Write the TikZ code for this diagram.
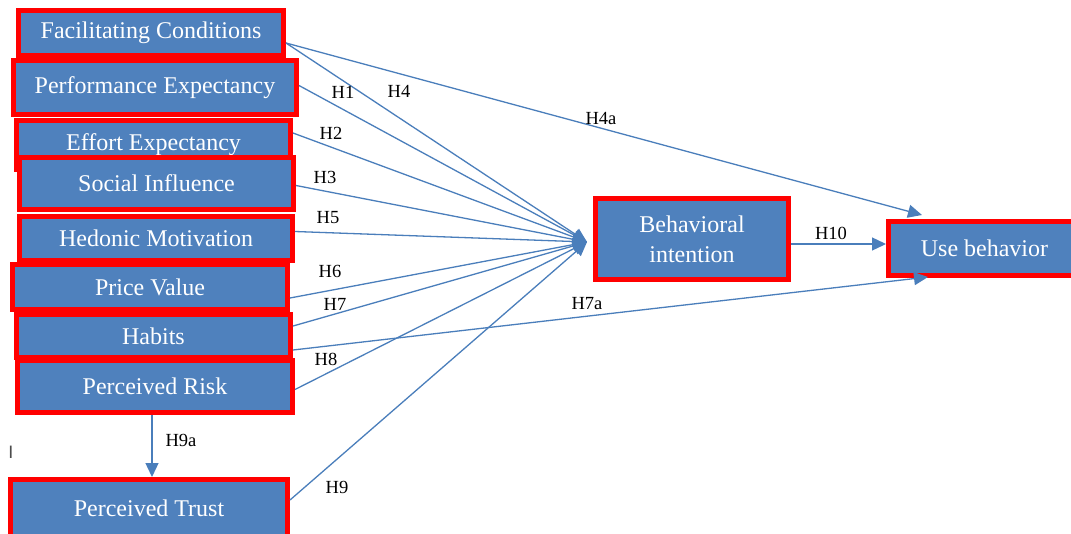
\documentclass[tikz,border=0pt]{standalone}
\usepackage{fontspec}
\setmainfont{Liberation Serif}
\newfontfamily\tickfont{Liberation Sans}
\usetikzlibrary{arrows.meta,calc}
\definecolor{boxblue}{HTML}{4F81BD}
\definecolor{linkblue}{HTML}{4A7EBB}
\definecolor{boxred}{HTML}{FF0000}
\tikzset{
  box/.style={rectangle, draw=boxred, line width=5pt, fill=boxblue, text=white,
    inner sep=0pt, font=\fontsize{24}{30}\selectfont, align=center},
  link/.style={draw=linkblue, line width=1.3pt, -{Triangle[length=14pt,width=13pt]}},
  hlabel/.style={font=\fontsize{18.5}{20}\selectfont, text=black, inner sep=0pt}
}
\begin{document}
\begin{tikzpicture}[x=1pt,y=-1pt]
\clip (0,0) rectangle (1071,533);
\fill[white] (0,0) rectangle (1071,533);
% boxes (top to bottom so that each covers the one above)
\node[box, minimum width=265pt, minimum height=45pt] (fc) at (151,33) {Facilitating Conditions};
\node[box, minimum width=283pt, minimum height=54pt] (pe) at (155,87.5) {Performance Expectancy};
\node[box, minimum width=274pt, minimum height=49pt] (ee) at (153.5,145) {Effort Expectancy};
\node[box, minimum width=274pt, minimum height=52pt] (si) at (156.5,183.5) {Social Influence};
\node[box, minimum width=273pt, minimum height=44pt] (hm) at (156,238.5) {Hedonic Motivation};
\node[box, minimum width=275pt, minimum height=45pt] (pv) at (150,287) {Price Value};
\node[box, minimum width=274pt, minimum height=43pt] (hb) at (153.5,336) {Habits};
\node[box, minimum width=275pt, minimum height=52pt] (pr) at (155,386.5) {Perceived Risk};
\node[box, minimum width=277pt, minimum height=62pt] (pt) at (149,510.5) {\raisebox{4pt}{Perceived Trust}};
\node[box, minimum width=193pt, minimum height=81pt] (bi) at (692,239) {Behavioral\\intention};
\node[box, minimum width=192pt, minimum height=54pt] (ub) at (984.5,248.5) {Use behavior};
% convergence point in front of Behavioral intention
\coordinate (conv) at ($(bi.west)+(-6,3)$);
% connectors into Behavioral intention
\draw[link] ($(fc.east)+(0,10)$) -- (conv);
\draw[link] ($(pe.east)+(0,-2)$) -- (conv);
\draw[link] ($(ee.east)+(0,-12)$) -- (conv);
\draw[link] ($(si.east)+(0,2)$) -- (conv);
\draw[link] ($(hm.east)+(0,-7)$) -- (conv);
\draw[link] ($(pv.east)+(0,11)$) -- (conv);
\draw[link] ($(hb.east)+(0,-10)$) -- (conv);
\draw[link] ($(pr.east)+(0,3)$) -- (conv);
\draw[link] ($(pt.east)+(0,-10.5)$) -- (conv);
% connectors into Use behavior
\draw[link] ($(fc.east)+(0,10)$) -- ($(ub.north west)+(36,-4)$);
\draw[link] ($(hb.east)+(0,14)$) -- ($(ub.south west)+(42,-1)$);
\coordinate (h10s) at ($(bi.east)+(0,5)$);
\draw[link] (h10s) -- (h10s -| ub.west);
% Perceived Risk -> Perceived Trust
\draw[link] ($(pr.south)+(-3,0)$) -- ($(pt.north)+(3,0)$);
% labels
\node[hlabel] (l1) at (343,92) {H1};
\node[hlabel] (l4) at (399,91) {H4};
\node[hlabel] (l4a) at (601,118) {H4a};
\node[hlabel] (l2) at (331,133) {H2};
\node[hlabel] (l3) at (325,177) {H3};
\node[hlabel] (l5) at (328,218) {H5};
\node[hlabel] (l6) at (330,271) {H6};
\node[hlabel] (l7) at (335,304) {H7};
\node[hlabel] (l8) at (326,359) {H8};
\node[hlabel] (l9) at (337,487) {H9};
\node[hlabel] (l9a) at (181,440) {H9a};
\node[hlabel] (l10) at (831,233) {H10};
\node[hlabel] (l7a) at (587,304) {H7a};
\node[inner sep=0pt, text=black!70, font=\tickfont\fontsize{18}{18}\selectfont] (tick) at (11,452) {I};
\end{tikzpicture}
\end{document}
